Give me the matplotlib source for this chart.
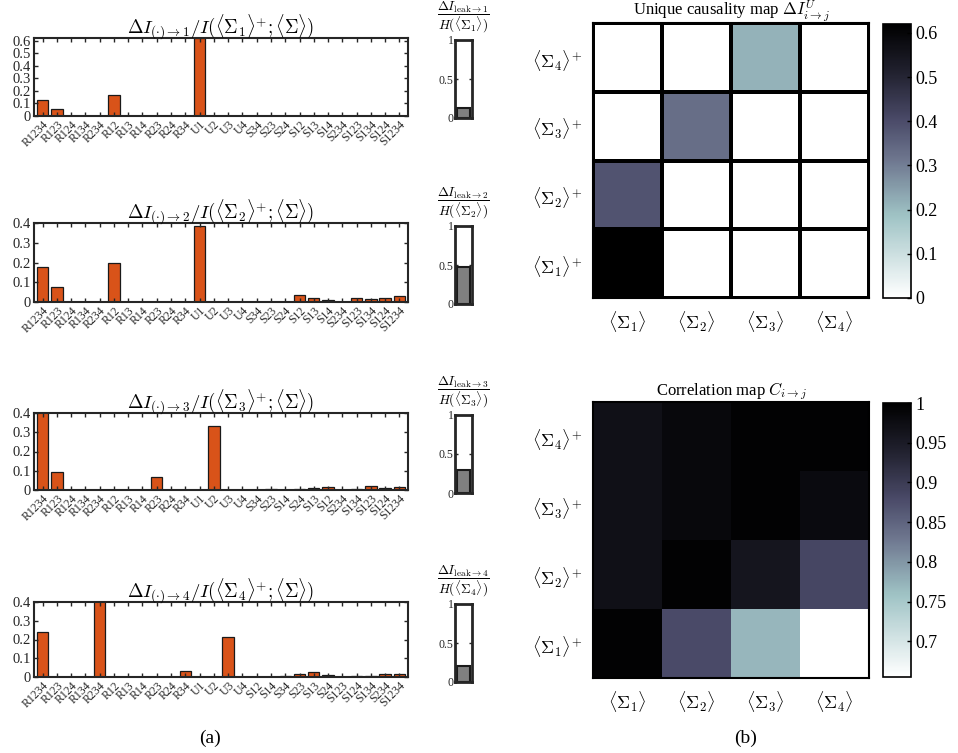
import numpy as np
import matplotlib
matplotlib.use("Agg")
import matplotlib.pyplot as plt
from matplotlib.colors import LinearSegmentedColormap

plt.rcParams["font.family"] = ["Liberation Serif", "DejaVu Serif"]
plt.rcParams["mathtext.fontset"] = "cm"

# ---- data ----
labels_1 = ["R1234", "R123", "R124", "R134", "R234", "R12", "R13", "R14", "R23", "R24", "R34",
            "U1", "U2", "U3", "U4", "S34", "S23", "S24", "S12", "S13", "S14", "S234",
            "S123", "S134", "S124", "S1234"]
values_1 = [0.13, 0.055, 0, 0, 0, 0.165, 0, 0, 0, 0, 0,
            0.62, 0, 0, 0, 0, 0, 0, 0.003, 0, 0, 0, 0, 0, 0, 0.002]

labels_2 = labels_1
values_2 = [0.175, 0.075, 0, 0, 0, 0.2, 0, 0, 0, 0, 0,
            0.385, 0, 0, 0, 0, 0, 0.002, 0.035, 0.018, 0.012, 0,
            0.018, 0.015, 0.018, 0.028]

labels_3 = ["R1234", "R123", "R124", "R134", "R234", "R12", "R13", "R14", "R23", "R24", "R34",
            "U1", "U2", "U3", "U4", "S34", "S23", "S14", "S24", "S13", "S12", "S234",
            "S134", "S123", "S124", "S1234"]
values_3 = [0.42, 0.095, 0, 0, 0, 0, 0, 0, 0.065, 0, 0,
            0, 0.33, 0, 0, 0, 0.004, 0, 0.005, 0.01, 0.018, 0,
            0.005, 0.02, 0.01, 0.018]

labels_4 = ["R1234", "R123", "R124", "R134", "R234", "R12", "R13", "R14", "R23", "R24", "R34",
            "U1", "U2", "U3", "U4", "S12", "S14", "S34", "S23", "S13", "S24", "S123",
            "S124", "S134", "S234", "S1234"]
values_4 = [0.24, 0, 0, 0, 0.42, 0, 0, 0, 0, 0, 0.03,
            0, 0, 0.215, 0, 0, 0, 0.004, 0.018, 0.028, 0.01, 0.002,
            0.003, 0.003, 0.015, 0.015]

ylims = [0.62, 0.4, 0.4, 0.4]
leak = [0.13, 0.47, 0.30, 0.20]

# rows: target <Sigma_j>^+ (1..4 bottom to top), cols: source <Sigma_i>
unique_map = np.array([
    [0.62, 0.0, 0.0, 0.0],
    [0.385, 0.0, 0.0, 0.0],
    [0.0, 0.33, 0.0, 0.0],
    [0.0, 0.0, 0.215, 0.0],
])
corr_map = np.array([
    [0.995, 0.88, 0.77, 0.655],
    [0.97, 0.995, 0.96, 0.885],
    [0.97, 0.985, 0.995, 0.98],
    [0.97, 0.985, 0.995, 0.995],
])

cmap = LinearSegmentedColormap.from_list(
    "tealpurple",
    [(0, "#ffffff"), (0.3, "#9fc3c5"), (0.5, "#6f7890"), (0.65, "#4a4a68"),
     (0.82, "#222230"), (1, "#000000")])

bar_color = "#D95319"
W, H = 958, 753
fig = plt.figure(figsize=(W / 100, H / 100), dpi=100)


def px_axes(l, t, r, b):
    return fig.add_axes([l / W, 1 - b / H, (r - l) / W, (b - t) / H])


def style_box(ax, lw=1.5):
    for s in ax.spines.values():
        s.set_linewidth(lw)
        s.set_color("#262626")
    ax.tick_params(direction="in", top=True, right=True, length=3, width=1, colors="#262626")


bar_boxes = [(34, 38, 408, 116), (34, 223, 408, 302), (34, 413, 408, 490), (34, 602, 408, 677)]
leak_boxes = [(455, 40, 472, 118), (455, 226, 472, 304), (455, 415, 472, 493), (455, 604, 472, 682)]
all_labels = [labels_1, labels_2, labels_3, labels_4]
all_values = [values_1, values_2, values_3, values_4]

for k in range(4):
    ax = px_axes(*bar_boxes[k])
    x = np.arange(len(all_labels[k]))
    ax.bar(x, all_values[k], width=0.8, color=bar_color, edgecolor="#1a1a1a", linewidth=0.9)
    ax.set_xlim(-0.6, len(x) - 0.4)
    ax.set_ylim(0, ylims[k])
    yt = np.arange(0, ylims[k] + 0.001, 0.1)
    ax.set_yticks(yt)
    ax.set_yticklabels([("0" if v == 0 else f"{v:.1f}") for v in yt], fontsize=10.5)
    ax.set_xticks(x)
    ax.set_xticklabels(all_labels[k], rotation=45, ha="right", rotation_mode="anchor", fontsize=8.5)
    style_box(ax)
    ax.tick_params(axis="y", pad=2)
    ax.tick_params(axis="x", pad=2, labelcolor="#262626")
    ax.set_title(r"$\Delta I_{(\cdot)\to %d}/I(\langle\Sigma_%d\rangle^{+};\langle\mathbf{\Sigma}\rangle)$"
                 % (k + 1, k + 1), fontsize=13.5, pad=3)

    lax = px_axes(*leak_boxes[k])
    lax.bar([0], [leak[k]], width=0.75, color="#808080", edgecolor="#1a1a1a", linewidth=1.5)
    lax.set_xlim(-0.5, 0.5)
    lax.set_ylim(0, 1)
    lax.set_xticks([])
    lax.set_yticks([0, 0.5, 1])
    lax.set_yticklabels(["0", "0.5", "1"], fontsize=8.5)
    style_box(lax, lw=2)
    lax.tick_params(axis="y", pad=1, length=2)
    lax.text(0.5, 1.06, r"$\dfrac{\Delta I_{\mathrm{leak}\to %d}}{H(\langle\Sigma_%d\rangle)}$" % (k + 1, k + 1),
             transform=lax.transAxes, ha="center", va="bottom", fontsize=9.5)

row_labels = [r"$\langle\Sigma_%d\rangle^{+}$" % i for i in range(1, 5)]
col_labels = [r"$\langle\Sigma_%d\rangle$" % i for i in range(1, 5)]


def heatmap(box, cbox, data, vmin, vmax, title, ticks, ticklabels, grid):
    ax = px_axes(*box)
    im = ax.pcolormesh(np.arange(5), np.arange(5), data, cmap=cmap, vmin=vmin, vmax=vmax,
                       edgecolors="black" if grid else "none", linewidth=1.6 if grid else 0)
    ax.set_xlim(0, 4)
    ax.set_ylim(0, 4)
    ax.set_xticks(np.arange(4) + 0.5)
    ax.set_yticks(np.arange(4) + 0.5)
    ax.set_xticklabels(col_labels, fontsize=13)
    ax.set_yticklabels(row_labels, fontsize=13)
    ax.tick_params(length=0, pad=8)
    for s in ax.spines.values():
        s.set_linewidth(1.5)
    ax.set_title(title, fontsize=12, pad=4)
    cax = px_axes(*cbox)
    cb = fig.colorbar(im, cax=cax)
    cb.set_ticks(ticks)
    cb.set_ticklabels(ticklabels)
    cax.tick_params(labelsize=13, direction="in", length=3, width=1)
    cb.outline.set_linewidth(1.2)


heatmap((593, 23, 869, 298), (883, 24, 911, 298), unique_map, 0, 0.62,
        r"Unique causality map $\Delta I^{U}_{i\to j}$",
        [0, 0.1, 0.2, 0.3, 0.4, 0.5, 0.6], ["0", "0.1", "0.2", "0.3", "0.4", "0.5", "0.6"], True)
heatmap((593, 402, 869, 678), (883, 403, 911, 677), corr_map, 0.655, 1.0,
        r"Correlation map $C_{i\to j}$",
        [0.7, 0.75, 0.8, 0.85, 0.9, 0.95, 1], ["0.7", "0.75", "0.8", "0.85", "0.9", "0.95", "1"], False)

fig.text(210 / W, 1 - 738 / H, "(a)", ha="center", va="center", fontsize=14)
fig.text(746 / W, 1 - 738 / H, "(b)", ha="center", va="center", fontsize=14)

fig.savefig("out.png", dpi=100, facecolor="white")
